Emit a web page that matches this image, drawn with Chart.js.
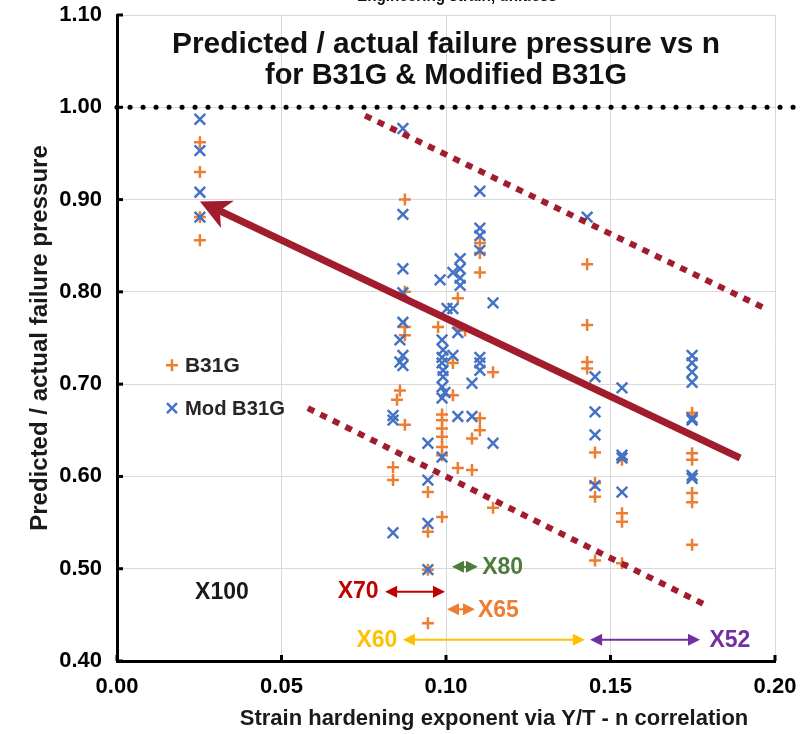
<!DOCTYPE html>
<html>
<head>
<meta charset="utf-8">
<script src="https://cdn.jsdelivr.net/npm/chart.js@4.4.1/dist/chart.umd.min.js"></script>
<style>
  html, body { margin: 0; padding: 0; background: #fff; overflow: hidden; }
  #wrap { width: 812px; height: 734px; overflow: hidden; position: relative; }
  #chart { position: absolute; left: 0; top: -16px; }
</style>
</head>
<body>
<div id="wrap"><canvas id="chart" width="812" height="750"></canvas></div>
<script>
const xTicks = [0.00, 0.05, 0.10, 0.15, 0.20];
const yTicks = [0.40, 0.50, 0.60, 0.70, 0.80, 0.90, 1.00, 1.10];

// B31G predicted / actual vs n
const b31gN = [
  0.0252, 0.0252, 0.0252, 0.0252,
  0.0875, 0.0875, 0.0875, 0.0875, 0.0875,
  0.0860, 0.0851, 0.0839, 0.0839,
  0.0945, 0.0945, 0.0945, 0.0945,
  0.0976,
  0.0988, 0.0988, 0.0988, 0.0988, 0.0988, 0.0988, 0.0988,
  0.1036, 0.1036, 0.1036, 0.1058, 0.1021, 0.1021, 0.1079, 0.1079,
  0.1103, 0.1103, 0.1103, 0.1103, 0.1103,
  0.1143, 0.1143,
  0.1429, 0.1429, 0.1429, 0.1429,
  0.1453, 0.1453, 0.1453, 0.1453,
  0.1535, 0.1535, 0.1535, 0.1535,
  0.1748, 0.1748, 0.1748, 0.1748, 0.1748, 0.1748
];
const b31gRatio = [
  0.962, 0.930, 0.881, 0.856,
  0.900, 0.800, 0.762, 0.753, 0.656,
  0.693, 0.683, 0.610, 0.596,
  0.583, 0.540, 0.499, 0.441,
  0.762,
  0.667, 0.661, 0.652, 0.643, 0.632, 0.623, 0.556,
  0.793, 0.761, 0.609, 0.758, 0.723, 0.688, 0.607, 0.641,
  0.853, 0.842, 0.821, 0.663, 0.650,
  0.713, 0.566,
  0.830, 0.764, 0.724, 0.717,
  0.626, 0.593, 0.578, 0.509,
  0.618, 0.560, 0.551, 0.506,
  0.669, 0.625, 0.618, 0.582, 0.572, 0.526
];

// Modified B31G predicted / actual vs n
const modN = [
  0.0252, 0.0252, 0.0252, 0.0252,
  0.0869, 0.0869, 0.0869, 0.0869, 0.0869, 0.0869, 0.0869,
  0.0860, 0.0860,
  0.0839, 0.0839, 0.0839,
  0.0945, 0.0945, 0.0945, 0.0945,
  0.0982,
  0.0988, 0.0988, 0.0988, 0.0988, 0.0988, 0.0988,
  0.0991, 0.0991, 0.0991, 0.0997, 0.1003,
  0.1021, 0.1021, 0.1021,
  0.1043, 0.1043, 0.1043, 0.1043,
  0.1036, 0.1036, 0.1079, 0.1079,
  0.1103, 0.1103, 0.1103, 0.1103, 0.1103, 0.1103, 0.1103,
  0.1143, 0.1143,
  0.1429,
  0.1453, 0.1453, 0.1453, 0.1453,
  0.1535, 0.1535, 0.1535, 0.1535,
  0.1748, 0.1748, 0.1748, 0.1748, 0.1748, 0.1748, 0.1748, 0.1748
];
const modRatio = [
  0.987, 0.953, 0.908, 0.881,
  0.977, 0.884, 0.825, 0.799, 0.767, 0.731, 0.720,
  0.748, 0.724,
  0.666, 0.661, 0.539,
  0.596, 0.549, 0.499, 0.636,
  0.813,
  0.748, 0.729, 0.723, 0.697, 0.685, 0.621,
  0.737, 0.715, 0.708, 0.691, 0.782,
  0.782, 0.821, 0.731,
  0.836, 0.825, 0.815, 0.807,
  0.756, 0.665, 0.665, 0.701,
  0.909, 0.869, 0.861, 0.845, 0.729, 0.723, 0.715,
  0.788, 0.636,
  0.881,
  0.708, 0.670, 0.645, 0.590,
  0.696, 0.623, 0.620, 0.583,
  0.731, 0.723, 0.713, 0.702, 0.663, 0.661, 0.601, 0.598
];

// guide lines: [start, end] in (n, ratio)
const parityN = [0.0, 0.2075];
const parityRatio = [1.0, 1.0];
const trendN = [0.1894, 0.0252];
const trendRatio = [0.620, 0.898];
const upperN = [0.0754, 0.197];
const upperRatio = [0.991, 0.782];
const lowerN = [0.058, 0.1787];
const lowerRatio = [0.674, 0.461];

const FONT = '"Liberation Sans", Arial, sans-serif';
Chart.defaults.font.family = FONT;

const pts = (xs, ys) => xs.map((v, i) => ({ x: v, y: ys[i] }));

// grade labels and n-range arrows
const gradeLabels = [
  { text: 'X100', color: '#1a1a1a', n: 0.0319, r: 0.475, align: 'center' },
  { text: 'X70', color: '#C00000', n: 0.0733, r: 0.476, align: 'center' },
  { text: 'X80', color: '#4E7A3A', n: 0.1110, r: 0.502, align: 'left' },
  { text: 'X65', color: '#ED7D31', n: 0.1097, r: 0.456, align: 'left' },
  { text: 'X60', color: '#FFC000', n: 0.0790, r: 0.423, align: 'center' },
  { text: 'X52', color: '#7030A0', n: 0.1863, r: 0.423, align: 'center' }
];
const gradeArrows = [
  { from: 0.0815, to: 0.0997, r: 0.475, color: '#C00000' },
  { from: 0.1018, to: 0.1097, r: 0.502, color: '#4E7A3A' },
  { from: 0.1003, to: 0.1088, r: 0.456, color: '#ED7D31' },
  { from: 0.0869, to: 0.1422, r: 0.423, color: '#FFC000' },
  { from: 0.1438, to: 0.1772, r: 0.423, color: '#7030A0' }
];

const overlay = {
  id: 'overlay',
  afterDatasetsDraw(chart) {
    const { ctx, chartArea: a, scales: { x, y } } = chart;
    const px = v => x.getPixelForValue(v);
    const py = v => y.getPixelForValue(v);
    ctx.save();

    // inward tick marks on the axes
    ctx.strokeStyle = '#000';
    ctx.lineWidth = 3;
    yTicks.forEach(t => {
      ctx.beginPath(); ctx.moveTo(a.left, py(t)); ctx.lineTo(a.left + 6, py(t)); ctx.stroke();
    });
    xTicks.forEach(t => {
      ctx.beginPath(); ctx.moveTo(px(t), a.bottom); ctx.lineTo(px(t), a.bottom - 6); ctx.stroke();
    });

    // trend arrow
    const x0 = px(trendN[0]), y0 = py(trendRatio[0]);
    const x1 = px(trendN[1]), y1 = py(trendRatio[1]);
    const ang = Math.atan2(y1 - y0, x1 - x0);
    const headLen = 34, half = 0.46, notch = 22;
    ctx.strokeStyle = '#A11D2E';
    ctx.fillStyle = '#A11D2E';
    ctx.lineWidth = 7;
    ctx.beginPath();
    ctx.moveTo(x0, y0);
    ctx.lineTo(x1 - Math.cos(ang) * (notch - 2), y1 - Math.sin(ang) * (notch - 2));
    ctx.stroke();
    ctx.beginPath();
    ctx.moveTo(x1, y1);
    ctx.lineTo(x1 - Math.cos(ang - half) * headLen, y1 - Math.sin(ang - half) * headLen);
    ctx.lineTo(x1 - Math.cos(ang) * notch, y1 - Math.sin(ang) * notch);
    ctx.lineTo(x1 - Math.cos(ang + half) * headLen, y1 - Math.sin(ang + half) * headLen);
    ctx.closePath();
    ctx.fill();

    // chart title inside the plot
    const cx = (a.left + a.right) / 2;
    ctx.fillStyle = '#111';
    ctx.textAlign = 'center';
    ctx.textBaseline = 'middle';
    ctx.font = 'bold 30px ' + FONT;
    ctx.fillText('Predicted / actual failure pressure vs n', cx, a.top + 30, 548);
    ctx.fillText('for B31G & Modified B31G', cx, a.top + 61, 362);

    // clipped caption of the upper panel
    ctx.font = 'bold 18px ' + FONT;
    ctx.fillText('Engineering strain, unitless', cx + 11, a.top - 19, 200);

    // x axis title (sits right of centre in the original)
    ctx.fillStyle = '#1a1a1a';
    ctx.font = 'bold 22px ' + FONT;
    ctx.fillText('Strain hardening exponent via Y/T - n correlation', cx + 48, a.bottom + 58, 516);

    // legend
    ctx.textAlign = 'left';
    ctx.font = 'bold 21px ' + FONT;
    const lx = px(0.0167);
    const ly1 = py(0.7206), ly2 = py(0.674);
    ctx.lineWidth = 2.5;
    ctx.strokeStyle = '#ED7D31';
    ctx.beginPath();
    ctx.moveTo(lx - 6, ly1); ctx.lineTo(lx + 6, ly1);
    ctx.moveTo(lx, ly1 - 6); ctx.lineTo(lx, ly1 + 6);
    ctx.stroke();
    ctx.strokeStyle = '#4472C4';
    ctx.beginPath();
    ctx.moveTo(lx - 5, ly2 - 5); ctx.lineTo(lx + 5, ly2 + 5);
    ctx.moveTo(lx - 5, ly2 + 5); ctx.lineTo(lx + 5, ly2 - 5);
    ctx.stroke();
    ctx.fillStyle = '#262626';
    ctx.fillText('B31G', lx + 13, ly1 + 1, 60);
    ctx.fillText('Mod B31G', lx + 13, ly2 + 1, 100);

    // grade range arrows
    const tri = (tx, ty, dir, color) => {
      ctx.fillStyle = color;
      ctx.beginPath();
      ctx.moveTo(tx, ty);
      ctx.lineTo(tx + dir * 12, ty - 6);
      ctx.lineTo(tx + dir * 12, ty + 6);
      ctx.closePath();
      ctx.fill();
    };
    gradeArrows.forEach(g => {
      const xa = px(g.from), xb = px(g.to), yy = py(g.r);
      ctx.strokeStyle = g.color;
      ctx.lineWidth = 2;
      ctx.beginPath(); ctx.moveTo(xa + 8, yy); ctx.lineTo(xb - 8, yy); ctx.stroke();
      tri(xa, yy, 1, g.color);
      tri(xb, yy, -1, g.color);
    });

    // grade labels
    ctx.font = 'bold 23px ' + FONT;
    ctx.textBaseline = 'middle';
    gradeLabels.forEach(g => {
      ctx.fillStyle = g.color;
      ctx.textAlign = g.align;
      ctx.fillText(g.text, px(g.n), py(g.r) + 1, g.text.length > 3 ? 54 : 44);
    });

    ctx.restore();
  }
};

new Chart(document.getElementById('chart'), {
  type: 'scatter',
  data: {
    datasets: [
      {
        label: 'B31G',
        data: pts(b31gN, b31gRatio),
        pointStyle: 'cross',
        pointRadius: 6,
        pointBorderWidth: 2.5,
        borderColor: '#ED7D31',
        backgroundColor: '#ED7D31',
        order: 3
      },
      {
        label: 'Mod B31G',
        data: pts(modN, modRatio),
        pointStyle: 'crossRot',
        pointRadius: 7.5,
        pointBorderWidth: 2.5,
        borderColor: '#4472C4',
        backgroundColor: '#4472C4',
        order: 2
      },
      {
        type: 'line',
        label: 'parity',
        data: pts(parityN, parityRatio),
        showLine: true,
        clip: 40,
        borderColor: '#000',
        borderWidth: 5,
        borderDash: [0.1, 12.9],
        borderCapStyle: 'round',
        pointRadius: 0,
        fill: false,
        order: 1
      },
      {
        type: 'line',
        label: 'upper bound',
        data: pts(upperN, upperRatio),
        showLine: true,
        borderColor: '#A11D2E',
        borderWidth: 6,
        borderDash: [7, 7],
        pointRadius: 0,
        fill: false,
        order: 1
      },
      {
        type: 'line',
        label: 'lower bound',
        data: pts(lowerN, lowerRatio),
        showLine: true,
        borderColor: '#A11D2E',
        borderWidth: 6,
        borderDash: [7, 7],
        pointRadius: 0,
        fill: false,
        order: 1
      }
    ]
  },
  options: {
    responsive: false,
    animation: false,
    layout: { padding: { top: 31, right: 37, left: 0, bottom: 0 } },
    plugins: {
      legend: { display: false },
      tooltip: { enabled: false }
    },
    scales: {
      x: {
        type: 'linear',
        min: xTicks[0],
        max: xTicks[xTicks.length - 1],
        afterBuildTicks: s => { s.ticks = xTicks.map(v => ({ value: v })); },
        afterFit: s => { s.height = 73; },
        grid: { color: '#d9d9d9', lineWidth: 1, drawTicks: false },
        border: { color: '#000', width: 3 },
        ticks: {
          padding: 13,
          color: '#000',
          font: { size: 22, weight: 'bold' },
          callback: v => v.toFixed(2)
        },
        title: { display: false }
      },
      y: {
        type: 'linear',
        min: yTicks[0],
        max: yTicks[yTicks.length - 1],
        afterBuildTicks: s => { s.ticks = yTicks.map(v => ({ value: v })); },
        afterFit: s => { s.width = 117; },
        grid: { color: '#d9d9d9', lineWidth: 1, drawTicks: false },
        border: { color: '#000', width: 3 },
        ticks: {
          padding: 15,
          color: '#000',
          font: { size: 22, weight: 'bold' },
          callback: v => v.toFixed(2)
        },
        title: {
          display: true,
          text: 'Predicted / actual failure pressure',
          color: '#1a1a1a',
          font: { size: 24, weight: 'bold' },
          padding: { top: 26, bottom: 0 }
        }
      }
    }
  },
  plugins: [overlay]
});
</script>
</body>
</html>
